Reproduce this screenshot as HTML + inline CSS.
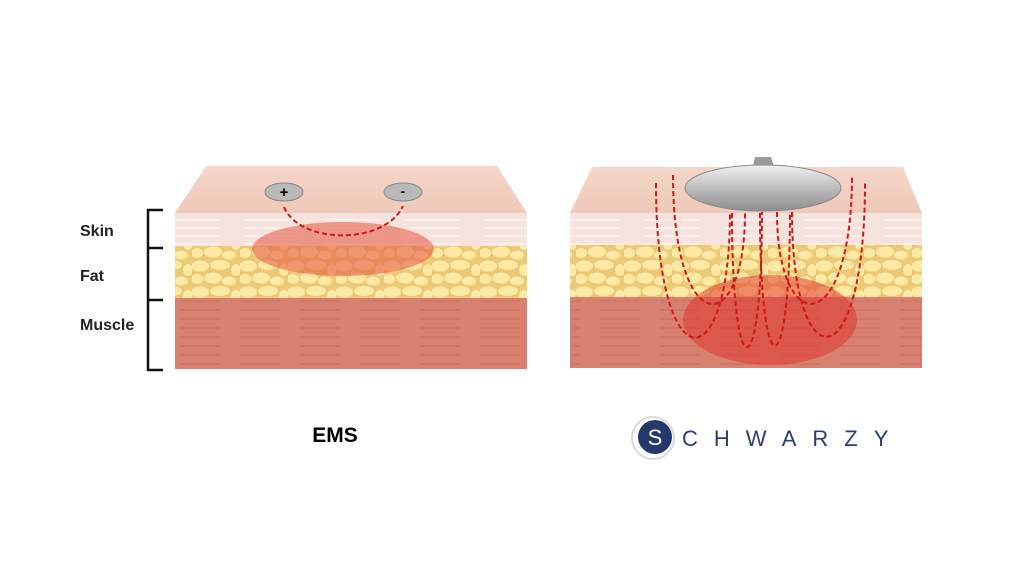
<!DOCTYPE html>
<html><head><meta charset="utf-8"><style>
html,body{margin:0;padding:0;background:#fff;}
svg{display:block}
text{font-family:"Liberation Sans",Arial,sans-serif}
</style></head><body>
<svg width="1024" height="576" viewBox="0 0 1024 576" xmlns="http://www.w3.org/2000/svg">
<defs>
<pattern id="fat" width="48" height="26" patternUnits="userSpaceOnUse">
<rect width="48" height="26" fill="#ecc977"/>
<ellipse cx="8" cy="6" rx="9" ry="5.5" fill="#fce9a4"/>
<ellipse cx="28" cy="5" rx="10" ry="5" fill="#fce9a4"/>
<ellipse cx="44" cy="10" rx="5" ry="6" fill="#fce9a4"/>
<ellipse cx="5" cy="19" rx="6" ry="5" fill="#fce9a4"/>
<ellipse cx="21" cy="18" rx="9" ry="5.5" fill="#fce9a4"/>
<ellipse cx="37" cy="21" rx="7" ry="4.5" fill="#fce9a4"/>
</pattern>
<pattern id="mus" width="60" height="9" patternUnits="userSpaceOnUse">
<rect width="60" height="9" fill="#d98170"/>
<line x1="0" y1="4" x2="40" y2="4" stroke="#c96d5e" stroke-width="1"/>
</pattern>
<pattern id="skin" width="80" height="8" patternUnits="userSpaceOnUse">
<rect width="80" height="8" fill="#f6e3dd"/>
<line x1="5" y1="4" x2="60" y2="4" stroke="#fbf1ee" stroke-width="1.5"/>
</pattern>
<linearGradient id="top" x1="0" y1="0" x2="0" y2="1">
<stop offset="0" stop-color="#f5d6c9"/><stop offset="1" stop-color="#efc9b9"/>
</linearGradient>
<linearGradient id="disc" x1="0" y1="0" x2="0" y2="1">
<stop offset="0" stop-color="#f2f2f2"/><stop offset="0.5" stop-color="#bdbdbd"/><stop offset="1" stop-color="#8c8c8c"/>
</linearGradient>
</defs>

<polygon points="206,166 497,166 527,213 175,213" fill="url(#top)"/>
<rect x="175" y="213" width="352" height="33" fill="url(#skin)"/>
<rect x="175" y="246" width="352" height="52" fill="url(#fat)"/>
<rect x="175" y="298" width="352" height="71" fill="url(#mus)"/>
<ellipse cx="343" cy="249" rx="91" ry="27" fill="#e8604c" fill-opacity="0.6"/>
<ellipse cx="284" cy="192" rx="19" ry="9" fill="#b9b9b9" stroke="#8a8a8a"/>
<ellipse cx="403" cy="192" rx="19" ry="9" fill="#b9b9b9" stroke="#8a8a8a"/>
<text x="284" y="197" font-size="15" font-weight="bold" text-anchor="middle">+</text>
<text x="403" y="196" font-size="14" font-weight="bold" text-anchor="middle">-</text>
<path d="M284,207 C300,245 385,245 403,206" fill="none" stroke="#d01818" stroke-width="2" stroke-dasharray="5,3"/>

<path d="M163,210 H148 V370 H163 M148,248 H163 M148,300 H163" fill="none" stroke="#111" stroke-width="2.5"/>
<text x="80" y="236" font-size="16" font-weight="bold" fill="#222">Skin</text>
<text x="80" y="281" font-size="16" font-weight="bold" fill="#222">Fat</text>
<text x="80" y="330" font-size="16" font-weight="bold" fill="#222">Muscle</text>
<text x="335" y="442" font-size="21" font-weight="bold" text-anchor="middle">EMS</text>

<polygon points="592,167 903,167 922,213 570,213" fill="url(#top)"/>
<rect x="570" y="213" width="352" height="32" fill="url(#skin)"/>
<rect x="570" y="245" width="352" height="52" fill="url(#fat)"/>
<rect x="570" y="297" width="352" height="71" fill="url(#mus)"/>
<ellipse cx="770" cy="320" rx="87" ry="45" fill="#e0302a" fill-opacity="0.5"/>
<g fill="none" stroke="#d01818" stroke-width="2" stroke-dasharray="5,3">
<path d="M656,183 C656,384 730,384 730,212"/>
<path d="M673,175 C673,340 745,340 745,213"/>
<path d="M732,213 C732,392 762,392 762,212"/>
<path d="M760,213 C760,390 790,390 790,212"/>
<path d="M777,212 C777,340 852,340 852,175"/>
<path d="M792,212 C792,383 865,383 865,183"/>
</g>
<path d="M752,170 L755,157 H771 L775,170 Z" fill="#9a9a9a"/>
<ellipse cx="763" cy="188" rx="78" ry="23" fill="url(#disc)" stroke="#8a8a8a"/>

<circle cx="653" cy="438" r="21" fill="none" stroke="#d8d8de" stroke-width="2"/>
<circle cx="655" cy="437" r="17" fill="#23396b"/>
<text x="655" y="445" font-size="22" fill="#fff" text-anchor="middle">S</text>
<text x="682" y="446" font-size="22" fill="#2b3f6f" letter-spacing="16">CHWARZY</text>
</svg>
</body></html>
